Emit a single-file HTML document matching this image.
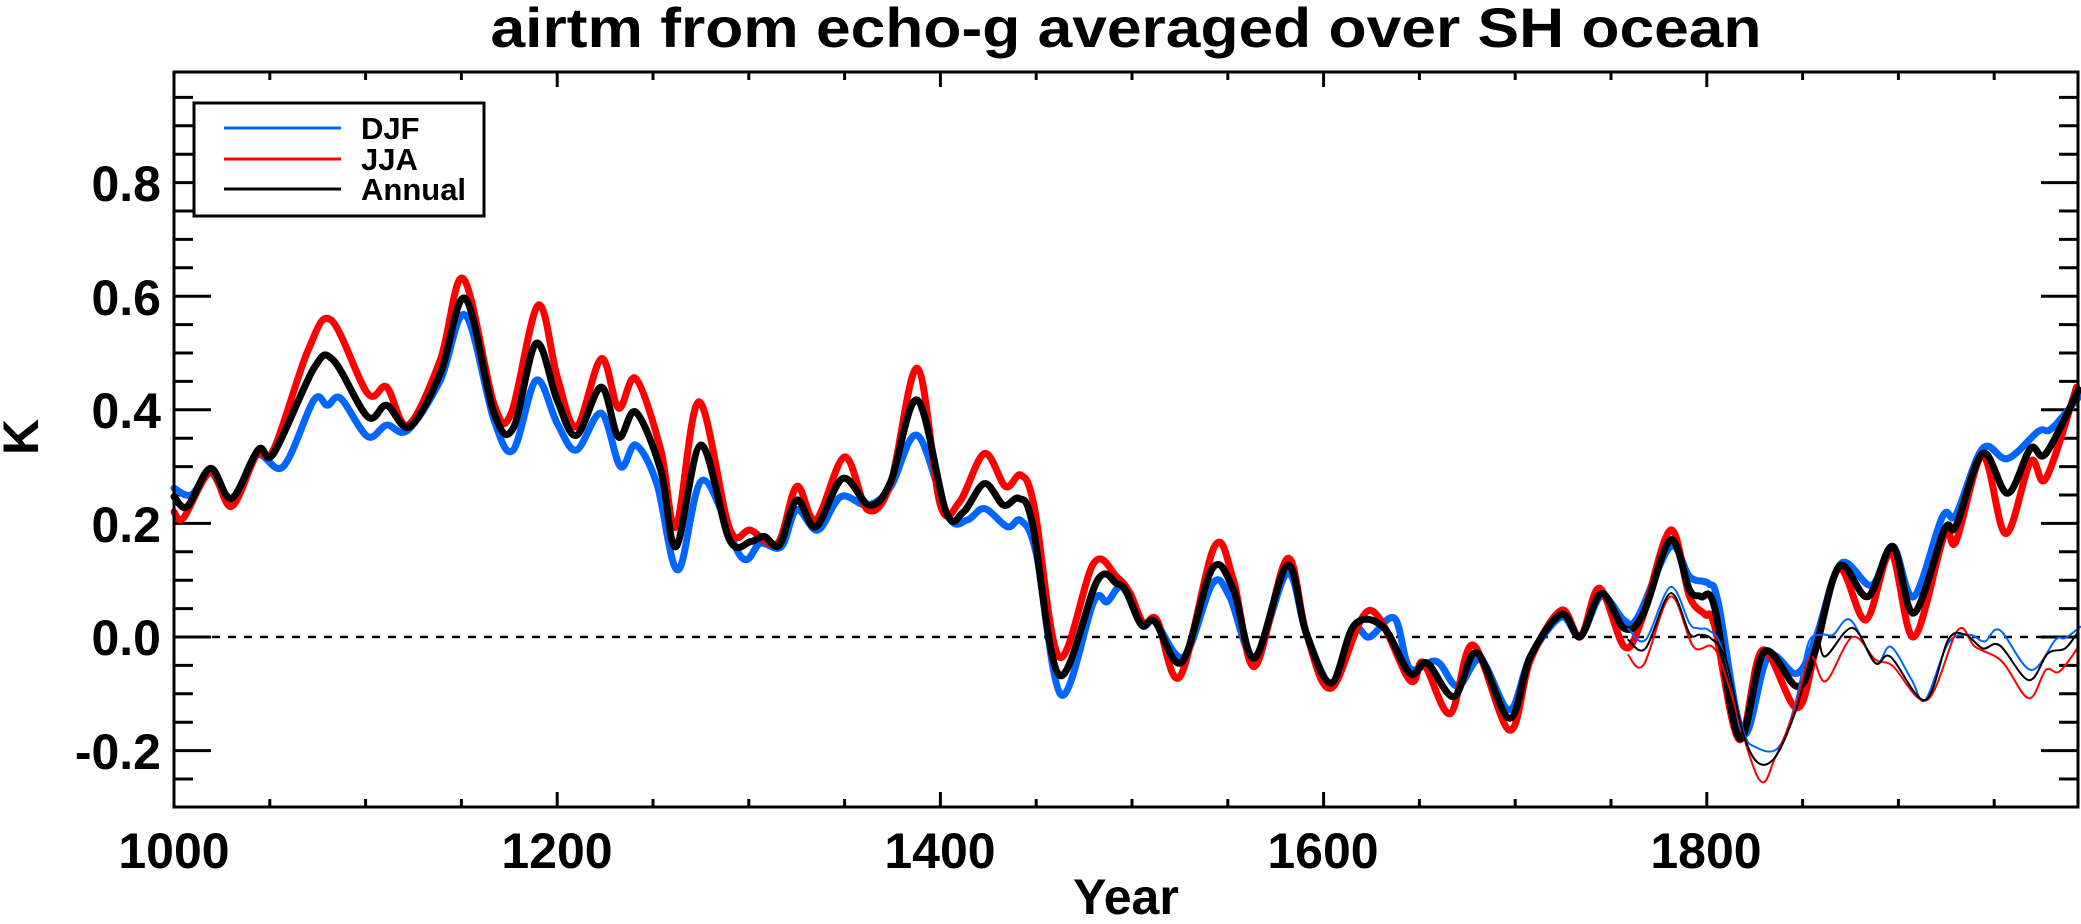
<!DOCTYPE html>
<html><head><meta charset="utf-8"><style>
html,body{margin:0;padding:0;background:#fff;}
svg{display:block;font-family:"Liberation Sans",sans-serif;font-weight:bold;}
</style></head><body>
<svg id="s" width="2081" height="924" viewBox="0 0 2081 924" xmlns="http://www.w3.org/2000/svg">
<rect width="2081" height="924" fill="#fff"/>
<text x="1126" y="47" font-size="56" text-anchor="middle" textLength="1271" lengthAdjust="spacingAndGlyphs">airtm from echo-g averaged over SH ocean</text>
<g id="ax"></g>
<g id="series" fill="none" stroke-linejoin="round" stroke-linecap="round"></g>
<rect x="174" y="72" width="1904" height="735" fill="none" stroke="#000" stroke-width="3"/>
<rect x="194" y="103" width="290" height="113" fill="#fff" stroke="#000" stroke-width="3"/>
<line x1="224" y1="128" x2="341" y2="128" stroke="#0066ff" stroke-width="3"/>
<line x1="224" y1="159" x2="341" y2="159" stroke="#ff0000" stroke-width="3"/>
<line x1="224" y1="189" x2="341" y2="189" stroke="#000" stroke-width="3"/>
<text x="361" y="139" font-size="31">DJF</text>
<text x="361" y="170" font-size="31">JJA</text>
<text x="361" y="200" font-size="31">Annual</text>
<g font-size="50" text-anchor="end">
<text x="161" y="201">0.8</text>
<text x="161" y="315">0.6</text>
<text x="161" y="428">0.4</text>
<text x="161" y="542">0.2</text>
<text x="161" y="655">0.0</text>
<text x="161" y="769">-0.2</text>
</g>
<g font-size="50" text-anchor="middle">
<text x="174" y="868">1000</text>
<text x="557" y="868">1200</text>
<text x="940" y="868">1400</text>
<text x="1323" y="868">1600</text>
<text x="1706" y="868">1800</text>
<text x="1126" y="914">Year</text>
<text transform="translate(38,437) rotate(-90)">K</text>
</g>
</svg>
<script>
var NS="http://www.w3.org/2000/svg";
function X(yr){return 174+(yr-1000)*1.916;}
function Y(v){return 637-v*568;}
var ax=document.getElementById("ax");
function ln(x1,y1,x2,y2,w,d){var l=document.createElementNS(NS,"line");l.setAttribute("x1",x1);l.setAttribute("y1",y1);l.setAttribute("x2",x2);l.setAttribute("y2",y2);l.setAttribute("stroke","#000");l.setAttribute("stroke-width",w||3);if(d)l.setAttribute("stroke-dasharray",d);ax.appendChild(l);}
for(var i=-6;i<=19;i++){var v=i*0.05;var y=Y(v);if(y<74||y>805)continue;var maj=(i%4===0);var L=maj?37:19;ln(174,y,174+L,y);ln(2078-L,y,2078,y);}
for(var yr=1050;yr<1995;yr+=50){var x=X(yr);var L=(yr%200===0)?15:8;ln(x,807,x,807-L);ln(x,72,x,72+L);}
ln(212,637,2076,637,2.5,"8,8");
function path(pts,col,w){
 var p=pts.map(function(a){return [X(a[0]),Y(a[1])];});
 var d="M"+p[0][0].toFixed(1)+","+p[0][1].toFixed(1);
 for(var i=0;i<p.length-1;i++){
  var p0=p[i-1]||p[i],p1=p[i],p2=p[i+1],p3=p[i+2]||p2;
  var c1=[p1[0]+(p2[0]-p0[0])/6,p1[1]+(p2[1]-p0[1])/6];
  var c2=[p2[0]-(p3[0]-p1[0])/6,p2[1]-(p3[1]-p1[1])/6];
  d+="C"+c1[0].toFixed(1)+","+c1[1].toFixed(1)+" "+c2[0].toFixed(1)+","+c2[1].toFixed(1)+" "+p2[0].toFixed(1)+","+p2[1].toFixed(1);
 }
 var e=document.createElementNS(NS,"path");e.setAttribute("d",d);e.setAttribute("stroke",col);e.setAttribute("stroke-width",w);
 document.getElementById("series").appendChild(e);
}
var blue=[[1000,0.262],[1009,0.25],[1019,0.29],[1030,0.24],[1043,0.32],[1057,0.30],[1073,0.417],[1080,0.408],[1087,0.42],[1101,0.353],[1111,0.373],[1122,0.364],[1139,0.452],[1152,0.567],[1167,0.382],[1177,0.329],[1189,0.452],[1200,0.376],[1210,0.329],[1223,0.394],[1233,0.30],[1241,0.338],[1252,0.27],[1263,0.118],[1276,0.276],[1296,0.141],[1306,0.165],[1317,0.159],[1325,0.224],[1336,0.188],[1348,0.247],[1362,0.232],[1374,0.264],[1388,0.355],[1404,0.212],[1414,0.206],[1423,0.226],[1435,0.194],[1442,0.205],[1450,0.147],[1463,-0.102],[1480,0.062],[1487,0.062],[1495,0.088],[1505,0.021],[1512,0.027],[1527,-0.035],[1542,0.094],[1551,0.071],[1564,-0.035],[1581,0.112],[1591,0.006],[1604,-0.081],[1616,0.012],[1624,0.0],[1637,0.033],[1645,-0.055],[1659,-0.043],[1670,-0.087],[1682,-0.04],[1697,-0.128],[1708,-0.034],[1724,0.035],[1734,0.001],[1745,0.072],[1757,0.029],[1764,0.035],[1781,0.159],[1791,0.106],[1801,0.094],[1806,0.06],[1819,-0.17],[1832,-0.035],[1847,-0.064],[1857,0.0],[1870,0.129],[1886,0.091],[1897,0.16],[1908,0.071],[1923,0.212],[1930,0.215],[1944,0.332],[1957,0.314],[1973,0.362],[1980,0.367],[1995,0.426]];
var red=[[1000,0.22],[1005,0.21],[1019,0.29],[1030,0.23],[1043,0.32],[1052,0.33],[1070,0.505],[1082,0.558],[1101,0.429],[1111,0.44],[1122,0.373],[1139,0.488],[1151,0.631],[1167,0.41],[1176,0.394],[1190,0.584],[1200,0.458],[1210,0.37],[1223,0.49],[1232,0.403],[1241,0.455],[1254,0.33],[1262,0.194],[1274,0.414],[1290,0.191],[1301,0.188],[1315,0.165],[1325,0.265],[1335,0.206],[1350,0.317],[1362,0.224],[1374,0.27],[1388,0.473],[1400,0.232],[1410,0.238],[1423,0.323],[1434,0.265],[1442,0.285],[1449,0.229],[1462,-0.035],[1480,0.13],[1492,0.106],[1499,0.077],[1506,0.024],[1513,0.03],[1525,-0.07],[1543,0.159],[1553,0.1],[1564,-0.052],[1581,0.138],[1591,0.006],[1604,-0.09],[1624,0.047],[1645,-0.076],[1652,-0.045],[1666,-0.135],[1678,-0.014],[1697,-0.164],[1708,-0.04],[1724,0.047],[1734,0.0],[1744,0.086],[1757,-0.017],[1766,0.03],[1781,0.188],[1791,0.071],[1799,0.04],[1804,0.02],[1817,-0.181],[1829,-0.023],[1847,-0.125],[1857,-0.02],[1869,0.12],[1883,0.03],[1896,0.147],[1908,0.0],[1924,0.18],[1930,0.168],[1944,0.318],[1956,0.182],[1969,0.309],[1977,0.279],[1993,0.44]];
var black=[[1000,0.247],[1007,0.23],[1019,0.297],[1030,0.244],[1044,0.33],[1052,0.323],[1073,0.473],[1083,0.488],[1101,0.388],[1111,0.408],[1123,0.37],[1139,0.464],[1152,0.596],[1167,0.394],[1177,0.367],[1189,0.517],[1200,0.417],[1210,0.355],[1223,0.44],[1232,0.352],[1241,0.396],[1254,0.294],[1262,0.159],[1275,0.338],[1290,0.171],[1301,0.168],[1308,0.177],[1316,0.162],[1325,0.241],[1335,0.194],[1349,0.279],[1363,0.232],[1374,0.273],[1388,0.417],[1403,0.22],[1412,0.22],[1423,0.27],[1433,0.232],[1441,0.244],[1448,0.2],[1462,-0.067],[1482,0.1],[1492,0.094],[1497,0.08],[1505,0.021],[1512,0.027],[1526,-0.044],[1542,0.121],[1553,0.083],[1564,-0.037],[1581,0.126],[1591,0.006],[1604,-0.081],[1616,0.021],[1631,0.018],[1645,-0.064],[1654,-0.046],[1668,-0.105],[1680,-0.028],[1697,-0.143],[1708,-0.034],[1724,0.04],[1734,0.001],[1745,0.077],[1757,0.015],[1767,0.042],[1781,0.171],[1791,0.083],[1797,0.071],[1804,0.053],[1817,-0.178],[1830,-0.026],[1847,-0.087],[1856,-0.03],[1869,0.124],[1884,0.071],[1897,0.159],[1908,0.042],[1924,0.189],[1930,0.195],[1944,0.323],[1957,0.253],[1969,0.332],[1977,0.323],[1994,0.435]];
var tblue=[[1759,0.015],[1768,-0.005],[1781,0.088],[1791,0.024],[1796,0.015],[1801,0.012],[1808,-0.02],[1819,-0.164],[1825,-0.193],[1837,-0.196],[1846,-0.12],[1853,-0.011],[1860,0.004],[1866,0.004],[1875,0.03],[1888,-0.046],[1896,-0.017],[1907,-0.076],[1914,-0.111],[1926,-0.011],[1937,0.004],[1945,-0.008],[1953,0.012],[1969,-0.058],[1982,-0.005],[1987,-0.002],[1995,0.018]];
var tred=[[1759,-0.032],[1767,-0.049],[1781,0.071],[1793,-0.017],[1803,-0.017],[1810,-0.07],[1827,-0.249],[1836,-0.21],[1846,-0.126],[1854,-0.034],[1862,-0.078],[1876,0.0],[1888,-0.04],[1897,-0.051],[1915,-0.111],[1931,0.012],[1940,-0.017],[1954,-0.043],[1968,-0.108],[1977,-0.058],[1984,-0.061],[1994,-0.017]];
var tblack=[[1759,-0.005],[1768,-0.02],[1781,0.077],[1791,0.006],[1796,0.004],[1802,-0.002],[1810,-0.04],[1819,-0.17],[1827,-0.222],[1836,-0.21],[1846,-0.134],[1857,-0.011],[1862,-0.034],[1876,0.016],[1888,-0.046],[1896,-0.035],[1914,-0.111],[1926,-0.005],[1935,0.004],[1944,-0.02],[1953,-0.015],[1968,-0.076],[1978,-0.029],[1987,-0.02],[1994,0.01]];
path(blue,"#0066ff",7);path(red,"#ff0000",7);path(black,"#000",7);
path(tblue,"#0066ff",2);path(tred,"#ff0000",2);path(tblack,"#000",2);
</script>
</body></html>
